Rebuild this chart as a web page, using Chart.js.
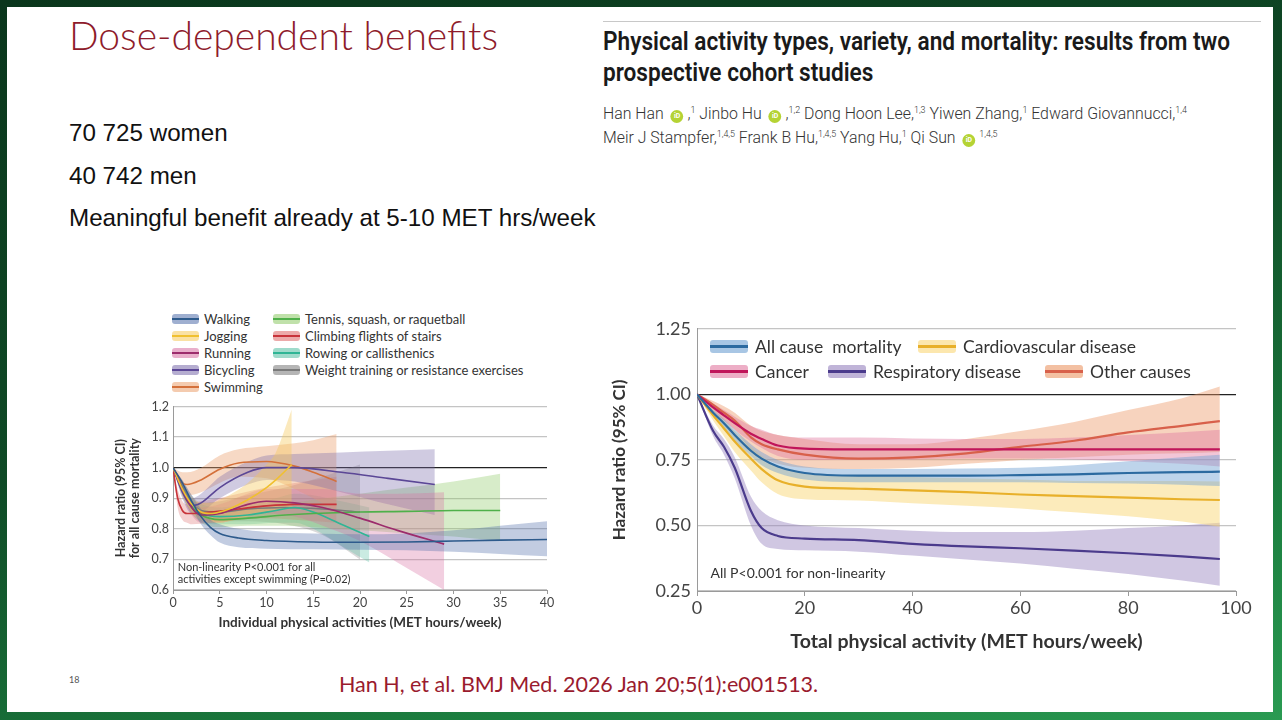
<!DOCTYPE html>
<html>
<head>
<meta charset="utf-8">
<script src="https://cdn.jsdelivr.net/npm/chart.js@4.4.1/dist/chart.umd.min.js"></script>
<style>
  html, body { margin: 0; padding: 0; }
  body {
    width: 1282px; height: 720px; overflow: hidden; position: relative;
    background: linear-gradient(165deg, #0a361c 0%, #0f4a26 45%, #1c7f40 80%, #2a9a52 100%);
  }
  #slide { position: absolute; left: 7px; top: 7px; width: 1266px; height: 705px; background: #fff; }
  .abs { position: absolute; }
  #title { left: 62px; top: 5px; font: 300 39px Lato, "Open Sans", sans-serif; color: #8e1b2b; white-space: nowrap; }
  .bullet { left: 62px; font: 24.2px "Liberation Sans", Arial, sans-serif; color: #111; white-space: nowrap; }
  #rule { left: 596px; top: 14px; width: 658px; height: 1px; background: #c8c8c8; }
  #paper { left: 596px; top: 19px; font: 600 25px Roboto, sans-serif; color: #1a1a1a; line-height: 31px;
           transform: scaleX(0.905); transform-origin: left top; white-space: nowrap; }
  #authors { left: 596px; top: 93px; font: 300 16px Roboto, sans-serif; color: #333; line-height: 21px;
             transform: scaleX(0.99); transform-origin: left top; white-space: nowrap; }
  #authors sup { font-size: 9px; vertical-align: 6px; }
  .orcid { display: inline-block; width: 13px; height: 13px; border-radius: 50%; background: #b5d334;
           color: #fff; font: bold 7px Roboto, sans-serif; text-align: center; line-height: 13px; vertical-align: 1px; margin: 0 4px 0 7px; }
  #cite { left: 332px; top: 664px; font: 21.5px Lato, sans-serif; color: #9a1b2e; white-space: nowrap; }
  #pagenum { left: 62px; top: 667px; font: 9px Lato, sans-serif; color: #555; }
  canvas { position: absolute; }
  #legL { left: 172px; top: 310px; display: grid; grid-auto-flow: column; grid-template-rows: repeat(5, 17px);
          grid-template-columns: 101px auto; font: 13px Lato, sans-serif; color: #333; }
  .li { display: flex; align-items: center; white-space: nowrap; }
  .mk { position: relative; display: inline-block; flex: none; border-radius: 3px; }
  .mk i { position: absolute; left: 0; right: 0; top: 50%; }
  .lr { font: 17.5px Lato, sans-serif; color: #333; white-space: pre; }
</style>
</head>
<body>
<div id="slide">
  <div id="title" class="abs">Dose-dependent benefits</div>
  <div class="abs bullet" style="top:112px">70 725 women</div>
  <div class="abs bullet" style="top:155px">40 742 men</div>
  <div class="abs bullet" style="top:197px">Meaningful benefit already at 5-10 MET hrs/week</div>
  <div id="rule" class="abs"></div>
  <div id="paper" class="abs">Physical activity types, variety, and mortality: results from two<br>prospective cohort studies</div>
  <div id="authors" class="abs">Han Han<span class="orcid">iD</span>,<sup>1</sup> Jinbo Hu<span class="orcid">iD</span>,<sup>1,2</sup> Dong Hoon Lee,<sup>1,3</sup> Yiwen Zhang,<sup>1</sup> Edward Giovannucci,<sup>1,4</sup><br>Meir J Stampfer,<sup>1,4,5</sup> Frank B Hu,<sup>1,4,5</sup> Yang Hu,<sup>1</sup> Qi Sun<span class="orcid">iD</span><sup>1,4,5</sup></div>
  <div id="cite" class="abs">Han H, et al. BMJ Med. 2026 Jan 20;5(1):e001513.</div>
  <div id="pagenum" class="abs">18</div>
</div>
<canvas id="leftChart" width="460" height="240" style="left:100px;top:395px"></canvas>
<canvas id="rightChart" width="650" height="345" style="left:610px;top:312px"></canvas>
<div id="legL" class="abs"></div>
<div id="legR"></div>
<script>
// ---- left panel: individual activities (MET hours/week) ----
const actNames = ['Walking', 'Jogging', 'Running', 'Bicycling', 'Swimming',
  'Tennis, squash, or raquetball', 'Climbing flights of stairs', 'Rowing or callisthenics',
  'Weight training or resistance exercises'];
const actLine = ['#2e5b8c', '#f0c030', '#9c2c6c', '#5b4796', '#d4703a', '#4fb04a', '#c8333a', '#2fb595', '#7a7a7a'];
const actBand = ['rgba(80,110,170,0.35)', 'rgba(245,200,90,0.4)', 'rgba(215,110,160,0.33)', 'rgba(120,105,170,0.35)',
  'rgba(235,160,110,0.4)', 'rgba(140,200,100,0.35)', 'rgba(220,100,100,0.3)', 'rgba(80,190,160,0.3)', 'rgba(120,120,120,0.28)'];

const walkX  = [0, 1, 2, 3, 4, 5, 7, 10, 15, 20, 25, 30, 35, 40];
const walkHR = [1.0, 0.95, 0.89, 0.84, 0.805, 0.785, 0.77, 0.762, 0.757, 0.756, 0.757, 0.76, 0.763, 0.765];
const walkLo = [1.0, 0.94, 0.87, 0.815, 0.78, 0.755, 0.74, 0.735, 0.733, 0.732, 0.73, 0.725, 0.718, 0.71];
const walkHi = [1.0, 0.96, 0.91, 0.865, 0.83, 0.815, 0.8, 0.79, 0.785, 0.782, 0.785, 0.795, 0.81, 0.825];

const jogX  = [0, 1, 2, 3, 4, 5, 6, 8, 10, 11, 12.7];
const jogHR = [1.0, 0.93, 0.88, 0.855, 0.85, 0.855, 0.865, 0.895, 0.935, 0.96, 1.01];
const jogLo = [1.0, 0.91, 0.855, 0.83, 0.82, 0.82, 0.825, 0.84, 0.855, 0.86, 0.87];
const jogHi = [1.0, 0.95, 0.905, 0.885, 0.885, 0.895, 0.91, 0.95, 1.01, 1.05, 1.19];

const runX  = [0, 1, 2, 3, 5, 8, 10, 13, 16, 20, 24, 29];
const runHR = [1.0, 0.93, 0.87, 0.845, 0.85, 0.88, 0.89, 0.885, 0.87, 0.835, 0.795, 0.75];
const runLo = [1.0, 0.91, 0.845, 0.82, 0.82, 0.845, 0.85, 0.84, 0.81, 0.76, 0.69, 0.6];
const runHi = [1.0, 0.95, 0.895, 0.87, 0.88, 0.915, 0.93, 0.93, 0.93, 0.915, 0.915, 0.92];

const bikeX  = [0, 1, 2, 3, 5, 8, 10, 13, 18, 23, 28];
const bikeHR = [1.0, 0.92, 0.875, 0.885, 0.935, 0.985, 1.0, 1.0, 0.985, 0.965, 0.945];
const bikeLo = [1.0, 0.9, 0.85, 0.855, 0.9, 0.945, 0.96, 0.955, 0.92, 0.88, 0.845];
const bikeHi = [1.0, 0.94, 0.9, 0.915, 0.97, 1.02, 1.04, 1.045, 1.05, 1.055, 1.06];

const swimX  = [0, 1, 1.5, 3, 5, 7, 10, 13, 15, 17.5];
const swimHR = [1.0, 0.95, 0.945, 0.96, 0.995, 1.015, 1.02, 1.005, 0.985, 0.955];
const swimLo = [1.0, 0.92, 0.91, 0.92, 0.95, 0.97, 0.965, 0.93, 0.9, 0.86];
const swimHi = [1.0, 0.985, 0.985, 1.0, 1.04, 1.06, 1.07, 1.08, 1.09, 1.11];

const tenX  = [0, 1, 2, 3, 5, 8, 12, 15, 20, 25, 30, 35];
const tenHR = [1.0, 0.93, 0.87, 0.845, 0.83, 0.835, 0.845, 0.85, 0.855, 0.857, 0.86, 0.86];
const tenLo = [1.0, 0.91, 0.85, 0.82, 0.805, 0.81, 0.81, 0.805, 0.795, 0.785, 0.775, 0.76];
const tenHi = [1.0, 0.95, 0.895, 0.87, 0.86, 0.865, 0.88, 0.895, 0.915, 0.935, 0.955, 0.98];

const stairX  = [0, 0.5, 1, 1.5, 2, 4, 7, 10, 13, 17.5];
const stairHR = [1.0, 0.9, 0.86, 0.85, 0.85, 0.855, 0.865, 0.875, 0.88, 0.88];
const stairLo = [1.0, 0.87, 0.83, 0.82, 0.815, 0.82, 0.83, 0.835, 0.83, 0.82];
const stairHi = [1.0, 0.93, 0.89, 0.88, 0.885, 0.895, 0.915, 0.935, 0.95, 0.97];

const rowX  = [0, 1, 2, 3, 5, 8, 11, 13, 15, 18, 21];
const rowHR = [1.0, 0.93, 0.875, 0.85, 0.84, 0.845, 0.86, 0.87, 0.855, 0.815, 0.775];
const rowLo = [1.0, 0.91, 0.85, 0.825, 0.815, 0.815, 0.82, 0.82, 0.8, 0.745, 0.69];
const rowHi = [1.0, 0.95, 0.9, 0.88, 0.87, 0.88, 0.9, 0.915, 0.91, 0.89, 0.87];

const wtX  = [0, 1, 2, 3, 5, 8, 12, 16, 20];
const wtHR = [1.0, 0.94, 0.885, 0.86, 0.855, 0.865, 0.87, 0.865, 0.855];
const wtLo = [1.0, 0.92, 0.86, 0.835, 0.825, 0.825, 0.815, 0.78, 0.7];
const wtHi = [1.0, 0.96, 0.91, 0.885, 0.89, 0.91, 0.935, 0.97, 1.01];

const leftYTicks = [0.6, 0.7, 0.8, 0.9, 1.0, 1.1, 1.2];
const leftXTicks = [0, 5, 10, 15, 20, 25, 30, 35, 40];

// ---- right panel: total activity by cause of death ----
const causeNames = ['All cause  mortality', 'Cardiovascular disease', 'Cancer', 'Respiratory disease', 'Other causes'];
const causeLine = ['#2c6aa0', '#e8b02a', '#c0155a', '#4b3b8c', '#d8604a'];
const causeBand = ['rgba(110,160,210,0.45)', 'rgba(250,215,120,0.5)', 'rgba(225,120,160,0.42)',
  'rgba(150,130,190,0.45)', 'rgba(235,150,100,0.42)'];

const totX = [0, 3, 5, 7, 10, 12, 15, 20, 30, 40, 50, 60, 70, 80, 90, 97];
const allHR = [1.0, 0.93, 0.89, 0.845, 0.785, 0.755, 0.725, 0.7, 0.69, 0.69, 0.69, 0.692, 0.695, 0.7, 0.703, 0.705];
const allLo = [1.0, 0.92, 0.875, 0.825, 0.765, 0.73, 0.7, 0.675, 0.665, 0.665, 0.665, 0.665, 0.662, 0.66, 0.655, 0.65];
const allHi = [1.0, 0.94, 0.905, 0.865, 0.81, 0.78, 0.75, 0.725, 0.715, 0.715, 0.717, 0.72, 0.73, 0.745, 0.76, 0.77];
const cvdHR = [1.0, 0.92, 0.87, 0.82, 0.755, 0.715, 0.672, 0.648, 0.64, 0.634, 0.627, 0.618, 0.612, 0.606, 0.6, 0.597];
const cvdLo = [1.0, 0.9, 0.84, 0.78, 0.71, 0.665, 0.62, 0.6, 0.595, 0.585, 0.575, 0.565, 0.55, 0.535, 0.515, 0.495];
const cvdHi = [1.0, 0.94, 0.9, 0.86, 0.8, 0.765, 0.725, 0.7, 0.69, 0.685, 0.68, 0.675, 0.67, 0.67, 0.67, 0.668];
const canHR = [1.0, 0.95, 0.92, 0.89, 0.85, 0.83, 0.805, 0.793, 0.79, 0.79, 0.79, 0.79, 0.79, 0.79, 0.79, 0.79];
const canLo = [1.0, 0.935, 0.9, 0.865, 0.82, 0.795, 0.765, 0.75, 0.75, 0.752, 0.755, 0.755, 0.752, 0.745, 0.735, 0.725];
const canHi = [1.0, 0.965, 0.94, 0.915, 0.88, 0.865, 0.845, 0.835, 0.835, 0.832, 0.83, 0.83, 0.835, 0.845, 0.855, 0.865];
const resHR = [1.0, 0.86, 0.8, 0.72, 0.556, 0.49, 0.46, 0.45, 0.444, 0.43, 0.42, 0.413, 0.404, 0.394, 0.382, 0.372];
const resLo = [1.0, 0.84, 0.77, 0.68, 0.5, 0.43, 0.41, 0.405, 0.4, 0.385, 0.37, 0.355, 0.335, 0.315, 0.29, 0.27];
const resHi = [1.0, 0.88, 0.83, 0.76, 0.61, 0.555, 0.52, 0.5, 0.49, 0.48, 0.475, 0.475, 0.48, 0.49, 0.5, 0.51];
const othHR = [1.0, 0.96, 0.93, 0.9, 0.836, 0.81, 0.79, 0.77, 0.755, 0.76, 0.775, 0.8, 0.823, 0.855, 0.88, 0.898];
const othLo = [1.0, 0.94, 0.9, 0.865, 0.79, 0.76, 0.735, 0.72, 0.715, 0.72, 0.735, 0.75, 0.76, 0.77, 0.775, 0.78];
const othHi = [1.0, 0.975, 0.955, 0.93, 0.88, 0.86, 0.845, 0.83, 0.81, 0.81, 0.83, 0.86, 0.895, 0.94, 0.985, 1.03];

const rightYTicks = [0.25, 0.5, 0.75, 1.0, 1.25];
const rightXTicks = [0, 20, 40, 60, 80, 100];

function pts(xs, ys) {
  return xs.map((x, i) => ({ x: x, y: ys[i] }));
}

// band (hi, lo filled to hi) plus the estimate line
function series(xs, hr, lo, hi, line, band, lw) {
  const common = { pointRadius: 0, cubicInterpolationMode: 'monotone' };
  return [
    Object.assign({ data: pts(xs, hi), borderWidth: 0, fill: false, order: 2 }, common),
    Object.assign({ data: pts(xs, lo), borderWidth: 0, fill: '-1', backgroundColor: band, order: 2 }, common),
    Object.assign({ data: pts(xs, hr), borderColor: line, borderWidth: lw, fill: false, order: 1 }, common)
  ];
}

const notes = {
  id: 'notes',
  afterDatasetsDraw(chart, args, opts) {
    const ctx = chart.ctx, xs = chart.scales.x, ys = chart.scales.y;
    ctx.save();
    ctx.font = opts.font;
    ctx.fillStyle = '#333';
    ctx.textBaseline = 'middle';
    opts.lines.forEach((t, i) => {
      ctx.fillText(t, xs.getPixelForValue(opts.x), ys.getPixelForValue(opts.y) + i * opts.step);
    });
    ctx.restore();
  }
};

function axes(o) {
  return {
    x: {
      type: 'linear', min: o.xt[0], max: o.xt[o.xt.length - 1],
      afterBuildTicks: s => { s.ticks = o.xt.map(v => ({ value: v })); },
      afterFit: s => { s.height = o.xh; },
      border: { color: '#9a9a9a', width: 1 },
      grid: { drawOnChartArea: false, drawTicks: true, tickLength: o.tl, color: '#9a9a9a' },
      ticks: { color: '#444', font: { family: 'Lato', size: o.tf }, padding: 1, maxRotation: 0 },
      title: { display: true, text: o.xtitle, color: '#333', font: { family: 'Lato', size: o.ttf, weight: 'bold' }, padding: { top: o.xtp } }
    },
    y: {
      min: o.yt[0], max: o.yt[o.yt.length - 1],
      afterBuildTicks: s => { s.ticks = o.yt.map(v => ({ value: v })); },
      afterFit: s => { s.width = o.yw; },
      border: { color: '#9a9a9a', width: 1 },
      grid: { drawTicks: false, color: c => Math.abs(c.tick.value - 1) < 1e-6 ? '#222' : '#c4c4c4', lineWidth: c => Math.abs(c.tick.value - 1) < 1e-6 ? 1.3 : 1.2 },
      ticks: { color: '#444', font: { family: 'Lato', size: o.tf }, padding: o.ytp, callback: v => v.toFixed(o.dec) },
      title: { display: true, text: o.ytitle, color: '#333', font: { family: 'Lato', size: o.ytf, weight: 'bold', lineHeight: 1.1 }, padding: 0 }
    }
  };
}

const leftSets = [
  [walkX, walkHR, walkLo, walkHi], [jogX, jogHR, jogLo, jogHi], [runX, runHR, runLo, runHi],
  [bikeX, bikeHR, bikeLo, bikeHi], [swimX, swimHR, swimLo, swimHi], [tenX, tenHR, tenLo, tenHi],
  [stairX, stairHR, stairLo, stairHi], [rowX, rowHR, rowLo, rowHi], [wtX, wtHR, wtLo, wtHi]
];
const leftData = [];
leftSets.forEach((s, i) => leftData.push(...series(s[0], s[1], s[2], s[3], actLine[i], actBand[i], 1.6)));

new Chart(document.getElementById('leftChart'), {
  type: 'line',
  data: { datasets: leftData },
  plugins: [notes],
  options: {
    responsive: false, animation: false, devicePixelRatio: 1,
    layout: { padding: { left: 14, right: 13, top: 3, bottom: 0 } },
    scales: axes({ xt: leftXTicks, yt: leftYTicks, xh: 45, yw: 59, tf: 12.5, ttf: 13.5, ytf: 12.5, tl: 4, dec: 1, ytp: 4, xtp: 1,
      xtitle: 'Individual physical activities (MET hours/week)',
      ytitle: ['Hazard ratio (95% CI)', 'for all cause mortality'] }),
    plugins: {
      legend: { display: false }, tooltip: { enabled: false },
      notes: { x: 0.5, y: 0.675, step: 12, font: '11px Lato', lines: ['Non-linearity P<0.001 for all', 'activities except swimming (P=0.02)'] }
    }
  }
});

const rightSets = [[allHR, allLo, allHi], [cvdHR, cvdLo, cvdHi], [canHR, canLo, canHi], [resHR, resLo, resHi], [othHR, othLo, othHi]];
const rightData = [];
rightSets.forEach((s, i) => rightData.push(...series(totX, s[0], s[1], s[2], causeLine[i], causeBand[i], 2.2)));

new Chart(document.getElementById('rightChart'), {
  type: 'line',
  data: { datasets: rightData },
  plugins: [notes],
  options: {
    responsive: false, animation: false, devicePixelRatio: 1,
    layout: { padding: { left: 0, right: 24, top: 5, bottom: 0 } },
    scales: axes({ xt: rightXTicks, yt: rightYTicks, xh: 66, yw: 87, tf: 18, ttf: 19.5, ytf: 17, tl: 5, dec: 2, ytp: 6, xtp: 5,
      xtitle: 'Total physical activity (MET hours/week)', ytitle: 'Hazard ratio (95% CI)' }),
    plugins: {
      legend: { display: false }, tooltip: { enabled: false },
      notes: { x: 2.5, y: 0.315, step: 0, font: '14px Lato', lines: ['All P<0.001 for non-linearity'] }
    }
  }
});

// ---- legends ----
function marker(w, h, band, line, lw) {
  return '<span class="mk" style="width:' + w + 'px;height:' + h + 'px;background:' + band + '">' +
    '<i style="height:' + lw + 'px;margin-top:' + (-lw / 2) + 'px;background:' + line + '"></i></span>';
}
const legL = document.getElementById('legL');
actNames.forEach((n, i) => {
  legL.insertAdjacentHTML('beforeend', '<div class="li">' + marker(27, 10, actBand[i].replace(/[\d.]+\)$/, '0.55)'), actLine[i], 2) +
    '<span style="margin-left:5px">' + n + '</span></div>');
});
const legRPos = [[710, 336], [918, 336], [710, 361], [828, 361], [1045, 361]];
const legR = document.getElementById('legR');
causeNames.forEach((n, i) => {
  legR.insertAdjacentHTML('beforeend', '<div class="abs li lr" style="left:' + legRPos[i][0] + 'px;top:' + legRPos[i][1] + 'px;height:20px">' +
    marker(38, 13, causeBand[i].replace(/[\d.]+\)$/, '0.6)'), causeLine[i], 3) + '<span style="margin-left:7px">' + n + '</span></div>');
});
</script>
</body>
</html>
